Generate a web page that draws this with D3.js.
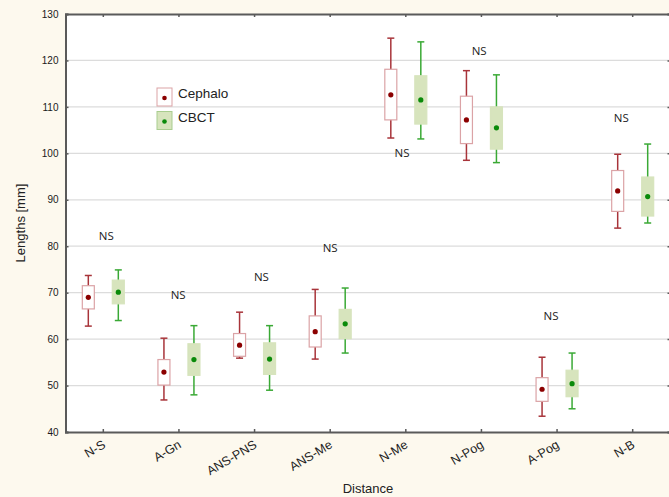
<!DOCTYPE html>
<html>
<head>
<meta charset="utf-8">
<script src="https://cdn.jsdelivr.net/npm/d3@7/dist/d3.min.js"></script>
<style>
  html, body { margin: 0; padding: 0; background: #fdf9ee; }
  svg { display: block; }
</style>
</head>
<body>
<div id="chart"></div>
<script>
// categories and values
var distances = ["N-S", "A-Gn", "ANS-PNS", "ANS-Me", "N-Me", "N-Pog", "A-Pog", "N-B"];

// [whisker low, box low, mean, box high, whisker high]
var cephalo = [
  [62.8, 66.5, 69.0, 71.5, 73.7],
  [46.9, 50.1, 52.9, 55.6, 60.2],
  [55.9, 56.3, 58.7, 61.2, 65.8],
  [55.7, 58.3, 61.6, 65.0, 70.7],
  [103.3, 107.2, 112.6, 118.1, 124.8],
  [98.5, 102.1, 107.2, 112.3, 117.8],
  [43.4, 46.6, 49.2, 51.7, 56.1],
  [83.9, 87.5, 91.9, 96.3, 99.8]
];
var cbct = [
  [64.0, 67.6, 70.1, 72.7, 74.9],
  [48.0, 52.2, 55.6, 59.0, 62.9],
  [49.0, 52.4, 55.7, 59.2, 62.9],
  [57.0, 60.1, 63.3, 66.4, 71.0],
  [103.1, 106.3, 111.5, 116.7, 124.0],
  [98.0, 100.9, 105.5, 110.0, 116.9],
  [45.0, 47.6, 50.4, 53.3, 57.0],
  [85.0, 86.5, 90.7, 94.9, 102.0]
];

// "NS" annotation: height in mm and shift in category units
var nsLevel = [82.2, 69.6, 73.4, 79.6, 100.1, 122.1, 64.9, 107.6];
var nsShift = [0.04, -0.01, 0.09, 0.0, -0.05, -0.03, -0.08, -0.15];

var yTicks = [40, 50, 60, 70, 80, 90, 100, 110, 120, 130];
var seriesNames = ["Cephalo", "CBCT"];

var W = 669, H = 497;
var plot = { left: 65.5, right: 670.5, top: 14, bottom: 432 };

var svg = d3.select("#chart").append("svg")
  .attr("width", W)
  .attr("height", H);

svg.append("rect")
  .attr("width", W).attr("height", H)
  .attr("fill", "#fdf9ee");

svg.append("rect")
  .attr("x", plot.left).attr("y", plot.top)
  .attr("width", plot.right - plot.left)
  .attr("height", plot.bottom - plot.top)
  .attr("fill", "#ffffff");

var x = d3.scaleBand()
  .domain(distances)
  .range([plot.left, plot.right])
  .padding(0);

var y = d3.scaleLinear()
  .domain([40, 130])
  .range([plot.bottom, plot.top]);

var cx = function(d) { return x(d) + x.bandwidth() / 2; };

// gridlines
svg.append("g")
  .selectAll("line")
  .data(yTicks.slice(1, -1))
  .enter().append("line")
  .attr("x1", plot.left).attr("x2", plot.right)
  .attr("y1", function(d) { return y(d); })
  .attr("y2", function(d) { return y(d); })
  .attr("stroke", "#dcdcdc")
  .attr("stroke-width", 1.3);

// axes
var axisColor = "#5a5a5a";
var yAxis = svg.append("g")
  .attr("transform", "translate(" + plot.left + ",0)")
  .call(d3.axisLeft(y).tickValues(yTicks).tickSize(-3).tickPadding(7));
var yAxisR = svg.append("g")
  .attr("transform", "translate(" + plot.right + ",0)")
  .call(d3.axisRight(y).tickValues(yTicks).tickSize(-3).tickFormat(""));
var xAxis = svg.append("g")
  .attr("transform", "translate(0," + plot.bottom + ")")
  .call(d3.axisBottom(x).tickSize(-3).tickFormat(""));
var xAxisT = svg.append("g")
  .attr("transform", "translate(0," + plot.top + ")")
  .call(d3.axisTop(x).tickSize(-3).tickFormat(""));

[yAxis, yAxisR, xAxis, xAxisT].forEach(function(g) {
  g.select(".domain").attr("stroke", axisColor).attr("stroke-width", 2);
  g.selectAll(".tick line").attr("stroke", axisColor).attr("stroke-width", 1.5);
});

yAxis.selectAll(".tick text")
  .attr("font-family", "'Liberation Sans', Arial, sans-serif")
  .attr("font-size", 10)
  .attr("fill", "#1a1a1a");

// rotated category labels
svg.append("g")
  .selectAll("text")
  .data(distances)
  .enter().append("text")
  .attr("transform", function(d) {
    return "translate(" + (cx(d) + 3) + "," + (plot.bottom + 15) + ") rotate(-31)";
  })
  .attr("text-anchor", "end")
  .attr("font-family", "'Liberation Sans', Arial, sans-serif")
  .attr("font-size", 12.5)
  .attr("fill", "#222")
  .text(function(d) { return d; });

// axis titles
svg.append("text")
  .attr("x", 368).attr("y", 493)
  .attr("text-anchor", "middle")
  .attr("font-family", "'Liberation Sans', Arial, sans-serif")
  .attr("font-size", 13)
  .attr("fill", "#222")
  .text("Distance");

svg.append("text")
  .attr("transform", "translate(25," + y(85) + ") rotate(-90)")
  .attr("text-anchor", "middle")
  .attr("font-family", "'Liberation Sans', Arial, sans-serif")
  .attr("font-size", 13)
  .attr("fill", "#222")
  .text("Lengths [mm]");

// box plot drawing
var styles = [
  { off: -15, whisker: "#a8343a", boxFill: "#ffffff", boxStroke: "#dba3a6", dot: "#8b0000" },
  { off: 15, whisker: "#3aa935", boxFill: "#d7e4bd", boxStroke: "#d7e4bd", dot: "#0a8a0a" }
];
var boxW = 12, capW = 7;

function drawSeries(data, st) {
  var g = svg.append("g");
  var grp = g.selectAll("g")
    .data(data)
    .enter().append("g")
    .attr("transform", function(d, i) {
      return "translate(" + (cx(distances[i]) + st.off) + ",0)";
    });

  grp.append("line")
    .attr("x1", 0).attr("x2", 0)
    .attr("y1", function(d) { return y(d[0]); })
    .attr("y2", function(d) { return y(d[4]); })
    .attr("stroke", st.whisker).attr("stroke-width", 1.5);

  grp.append("line")
    .attr("x1", -capW / 2).attr("x2", capW / 2)
    .attr("y1", function(d) { return y(d[0]); })
    .attr("y2", function(d) { return y(d[0]); })
    .attr("stroke", st.whisker).attr("stroke-width", 1.5);

  grp.append("line")
    .attr("x1", -capW / 2).attr("x2", capW / 2)
    .attr("y1", function(d) { return y(d[4]); })
    .attr("y2", function(d) { return y(d[4]); })
    .attr("stroke", st.whisker).attr("stroke-width", 1.5);

  grp.append("rect")
    .attr("x", -boxW / 2)
    .attr("width", boxW)
    .attr("y", function(d) { return y(d[3]); })
    .attr("height", function(d) { return y(d[1]) - y(d[3]); })
    .attr("fill", st.boxFill)
    .attr("stroke", st.boxStroke)
    .attr("stroke-width", 1.2);

  grp.append("circle")
    .attr("cx", 0)
    .attr("cy", function(d) { return y(d[2]); })
    .attr("r", 2.6)
    .attr("fill", st.dot);
}

drawSeries(cephalo, styles[0]);
drawSeries(cbct, styles[1]);

// NS labels
svg.append("g")
  .selectAll("text")
  .data(distances)
  .enter().append("text")
  .attr("x", function(d, i) { return cx(d) + nsShift[i] * x.bandwidth(); })
  .attr("y", function(d, i) { return y(nsLevel[i]); })
  .attr("dy", "0.35em")
  .attr("text-anchor", "middle")
  .attr("font-family", "'Open Sans', 'DejaVu Sans', sans-serif")
  .attr("font-size", 11.5)
  .attr("fill", "#222")
  .text("NS");

// legend
var legend = svg.append("g").attr("transform", "translate(157,88)");
var leg = legend.selectAll("g")
  .data(seriesNames)
  .enter().append("g")
  .attr("transform", function(d, i) { return "translate(0," + (i * 23.5) + ")"; });

leg.append("rect")
  .attr("x", 0).attr("y", 0)
  .attr("width", 15).attr("height", 18)
  .attr("fill", function(d, i) { return styles[i].boxFill; })
  .attr("stroke", function(d, i) { return i === 0 ? styles[i].boxStroke : "#a9cd8f"; })
  .attr("stroke-width", 1);

leg.append("circle")
  .attr("cx", 7.5).attr("cy", 10)
  .attr("r", 2.3)
  .attr("fill", function(d, i) { return styles[i].dot; });

leg.append("text")
  .attr("x", 21).attr("y", 10)
  .attr("font-family", "'Liberation Sans', Arial, sans-serif")
  .attr("font-size", 13.5)
  .attr("fill", "#222")
  .text(function(d) { return d; });
</script>
</body>
</html>
